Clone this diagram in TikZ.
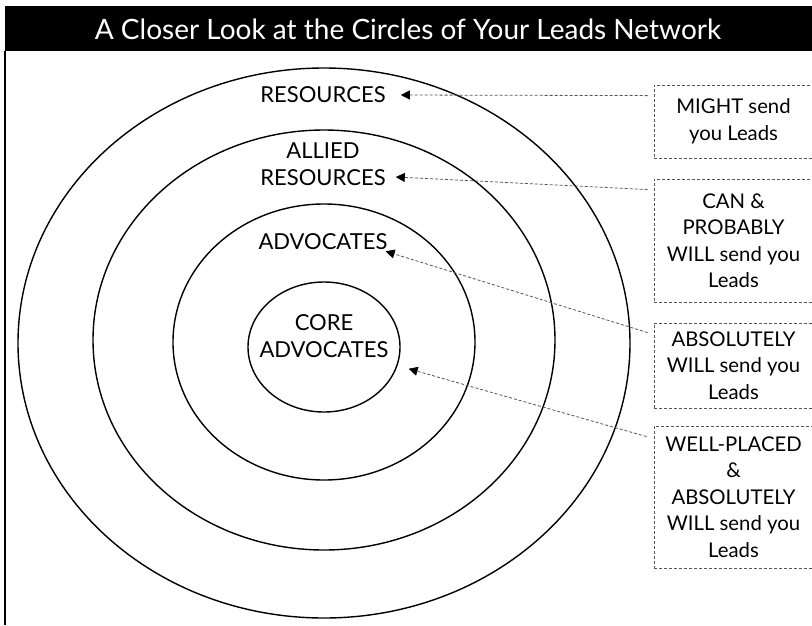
\documentclass[tikz,border=0pt]{standalone}
\usepackage{fontspec}
\setmainfont{Lato}
\usetikzlibrary{arrows.meta}
\definecolor{rgblack}{HTML}{000000}
\definecolor{ldgray}{HTML}{555555}

\begin{document}
\begin{tikzpicture}[>=Triangle,x=1pt,y=-1pt,
    ring/.style={rgblack,line width=1.4pt},
    lbl/.style={font=\fontsize{22}{27}\selectfont,align=center,inner sep=0pt},
    leadbox/.style={draw=ldgray,line width=0.8pt,dash pattern=on 3pt off 2pt,
      font=\fontsize{20.3}{26.5}\selectfont,align=center,
      minimum width=159pt,inner sep=0pt},
    lead/.style={ldgray,line width=0.8pt,dash pattern=on 3pt off 2pt,
      -{Triangle[length=9pt,width=9pt,color=black]}}]

  \useasboundingbox (0,0) rectangle (812,625);

  % =====================================================================
  % FRAME — title bar and left edge
  % =====================================================================
  \fill[rgblack] (5,6) rectangle (812,51);
  \node[text=white,font=\fontsize{28}{30}\selectfont] (title) at (408,29)
        {A Closer Look at the Circles of Your Leads Network};
  \draw[rgblack,line width=2pt] (5,51) -- (5,625);

  % =====================================================================
  % RINGS — outer to core
  % =====================================================================
  \foreach \cx/\cy/\rx/\ry in {324/343/306/275, 324/340/231/210,
                               324/342/151/138, 324/347/76/65}
    \draw[ring] (\cx,\cy) ellipse [x radius=\rx, y radius=\ry];

  % ring labels
  \node[lbl] (res)    at (323,95)  {RESOURCES};
  \node[lbl] (allied) at (323,164) {ALLIED\\RESOURCES};
  \node[lbl] (adv)    at (323,242) {ADVOCATES};
  \node[lbl] (core)   at (324,336) {CORE\\ADVOCATES};

  % =====================================================================
  % LEAD BOXES — right column
  % =====================================================================
  \node[leadbox,minimum height=73pt]  (might) at (733.5,121.5)
        {MIGHT send\\you Leads};
  \node[leadbox,minimum height=123pt] (can)   at (733.5,240.5)
        {CAN \&\\PROBABLY\\WILL send you\\Leads};
  \node[leadbox,minimum height=85pt]  (abs)   at (733.5,365.5)
        {ABSOLUTELY\\WILL send you\\Leads};
  \node[leadbox,minimum height=142pt] (well)  at (733.5,497)
        {WELL-PLACED\\\&\\ABSOLUTELY\\WILL send you\\Leads};

  % connectors
  \draw[lead] ([shift={(-6,11)}]might.north west) -- ([shift={(15,0)}]res.east);
  \draw[lead] ([shift={(-6,11)}]can.north west)   -- ([shift={(10,13)}]allied.east);
  \draw[lead] ([shift={(-6,10)}]abs.north west)   -- ([shift={(-2,1)}]adv.south east);
  \draw[lead] ([shift={(-7,11)}]well.north west)  -- ([shift={(20,11)}]core.south east);

\end{tikzpicture}
\end{document}
